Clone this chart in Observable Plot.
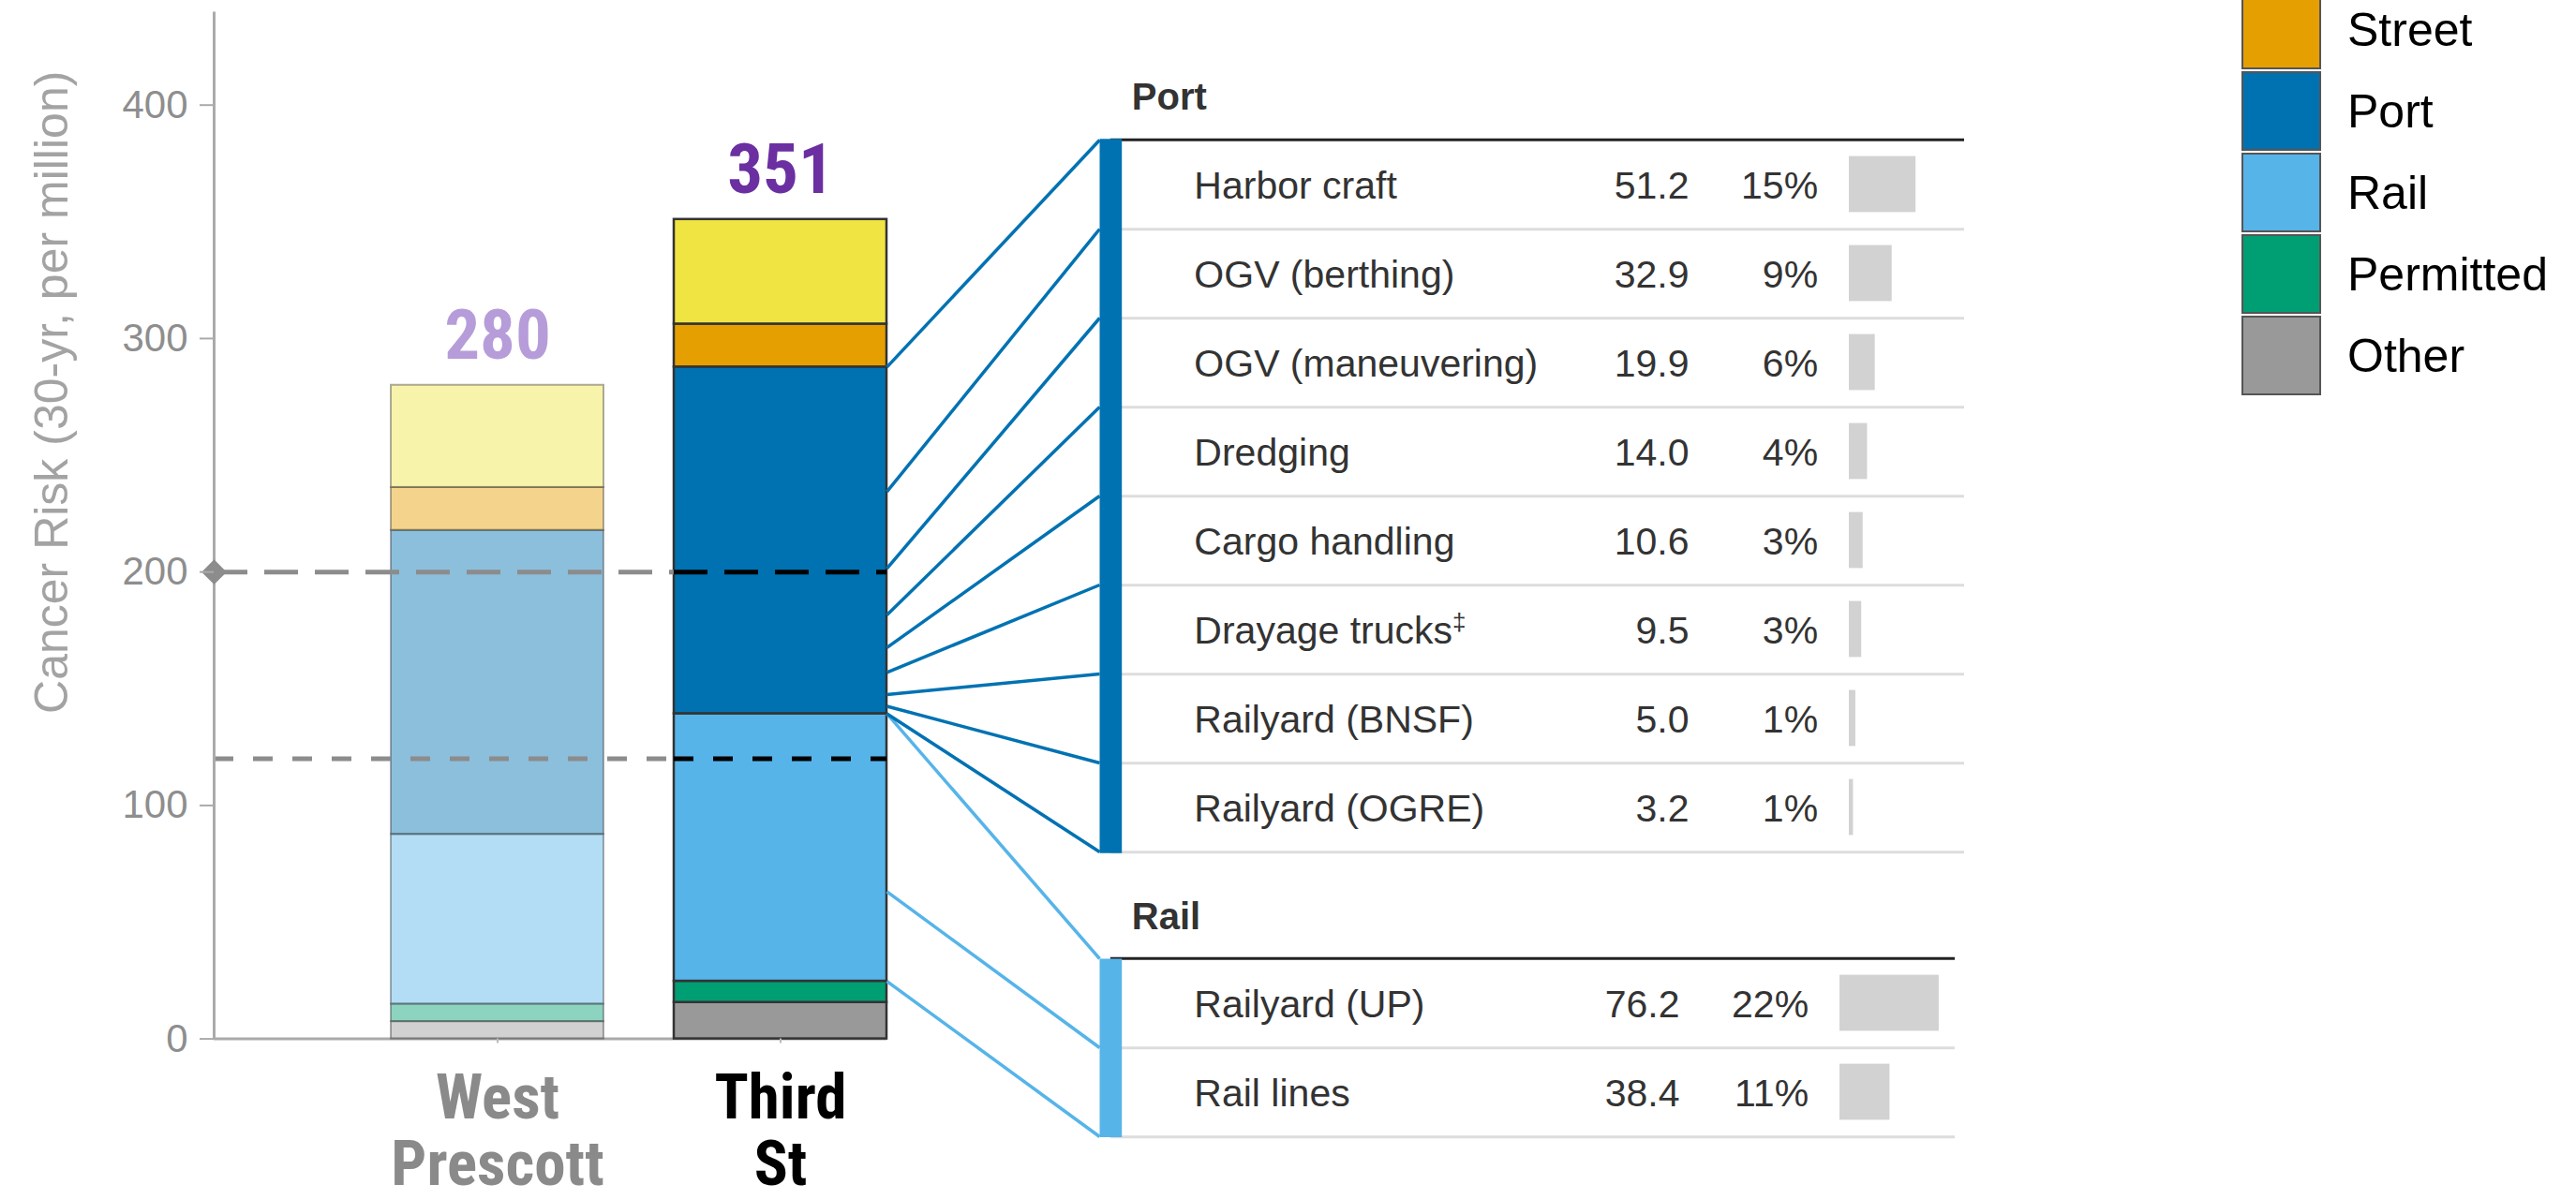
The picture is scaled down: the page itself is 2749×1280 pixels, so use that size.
<!DOCTYPE html>
<html>
<head>
<meta charset="utf-8">
<script src="https://cdn.jsdelivr.net/npm/d3@7"></script>
<script src="https://cdn.jsdelivr.net/npm/@observablehq/plot@0.6"></script>
<style>
  html, body { margin: 0; padding: 0; background: #fff; }
  #wrap { position: relative; width: 2749px; height: 1280px; overflow: hidden;
          font-family: "Liberation Sans", Arial, Helvetica, sans-serif; }
  #wrap svg { position: absolute; }
  .lg-box { position: absolute; box-sizing: border-box; border: 2px solid #555; }
  .lg-label { position: absolute; display: flex; align-items: center; font-size: 50px; color: #000; white-space: nowrap; }
</style>
</head>
<body>
<div id="wrap"></div>
<script>
// ---------------- data ----------------
const sites = ["West Prescott", "Third St"];
const siteLabels = ["West\nPrescott", "Third\nSt"];
const sources = ["Other", "Permitted", "Rail", "Port", "Street", "Highway"];
const sourceColors = ["#999999", "#009E73", "#56B4E9", "#0072B2", "#E69F00", "#F0E442"];
const westPrescott = [7.4, 7.5, 72.7, 130.2, 18.4, 43.8];
const thirdSt = [15.6, 9.1, 114.6, 148.5, 18.4, 44.8];
const totals = [280, 351];
const thresholds = [200, 120];
const yTicks = [0, 100, 200, 300, 400];
const yTitle = "Cancer Risk (30-yr, per million)";

const portItems = ["Harbor craft", "OGV (berthing)", "OGV (maneuvering)", "Dredging",
                   "Cargo handling", "Drayage trucks‡", "Railyard (BNSF)", "Railyard (OGRE)"];
const portValues = [51.2, 32.9, 19.9, 14.0, 10.6, 9.5, 5.0, 3.2];
const portShares = ["15%", "9%", "6%", "4%", "3%", "3%", "1%", "1%"];

const railItems = ["Railyard (UP)", "Rail lines"];
const railValues = [76.2, 38.4];
const railShares = ["22%", "11%"];

const legendItems = ["Street", "Port", "Rail", "Permitted", "Other"];

// ---------------- layout ----------------
const FONT = '"Liberation Sans", Arial, Helvetica, sans-serif';
const NARROW = '"Liberation Sans Narrow", "Arial Narrow", "Roboto Condensed", "DejaVu Sans Condensed", sans-serif';
const wrap = document.getElementById("wrap");

const segs = [];
sites.forEach((site, s) => {
  const vals = s === 0 ? westPrescott : thirdSt;
  sources.forEach((source, i) => segs.push({site, source, value: vals[i]}));
});

const xOpts = {type: "band", domain: sites, range: [416, 946], paddingInner: 0.25, paddingOuter: 0};
const xs = Plot.scale({x: xOpts});
const thirdLeft = xs.apply(sites[1]);
const barRight = thirdLeft + xs.bandwidth;
const frameRight = xOpts.range[1];

const catText = {frameAnchor: "bottom", lineAnchor: "top", dy: 34, lineHeight: 1.06,
                 fontSize: 67, fontWeight: "bold", fontFamily: NARROW};

const main = Plot.plot({
  width: 1000, height: 1280,
  marginLeft: 228, marginRight: 1000 - frameRight, marginTop: 12, marginBottom: 171.4,
  style: {fontFamily: FONT, background: "transparent"},
  x: xOpts,
  y: {domain: [0, 440]},
  color: {domain: sources, range: sourceColors},
  marks: [
    Plot.ruleY([0], {stroke: "#aaa", strokeWidth: 3}),
    Plot.barY(segs.filter(d => d.site === sites[0]), {
      x: "site", y: "value", fill: "source", order: sources,
      fillOpacity: 0.45, stroke: "#333", strokeOpacity: 0.4, strokeWidth: 2
    }),
    Plot.barY(segs.filter(d => d.site === sites[1]), {
      x: "site", y: "value", fill: "source", order: sources,
      stroke: "#333", strokeWidth: 2.5
    }),
    Plot.ruleY([thresholds[0]], {stroke: "#8c8c8c", strokeWidth: 5, strokeDasharray: "36,18", insetRight: frameRight - thirdLeft}),
    Plot.ruleY([thresholds[1]], {stroke: "#8c8c8c", strokeWidth: 5, strokeDasharray: "21,21", insetRight: frameRight - thirdLeft}),
    Plot.tickY([thresholds[0]], {x: () => sites[1], y: d => d, stroke: "#000", strokeWidth: 5, strokeDasharray: "36,18"}),
    Plot.tickY([thresholds[1]], {x: () => sites[1], y: d => d, stroke: "#000", strokeWidth: 5, strokeDasharray: "21,21"}),
    Plot.frame({anchor: "left", stroke: "#aaa", strokeWidth: 3, strokeLinecap: "butt"}),
    Plot.dot([thresholds[0]], {y: d => d, frameAnchor: "left", symbol: "diamond2", r: 12, fill: "#8c8c8c", stroke: "none"}),
    Plot.axisY({ticks: yTicks, tickSize: 15, tickPadding: 13, fontSize: 42, stroke: "#aaa", strokeWidth: 2,
                fill: "#8e8e8e", label: null, fontFamily: FONT}),
    Plot.axisX({tickSize: 5, tickFormat: () => "", label: null, stroke: "#bbb", strokeWidth: 2}),
    Plot.text([yTitle], {text: d => d, frameAnchor: "left", rotate: -90, dx: -157, dy: -142,
                         lineAnchor: "bottom", textAnchor: "middle", fontSize: 50, fill: "#a3a3a3"}),
    Plot.text([sites[0]], {x: d => d, y: () => totals[0], text: () => String(totals[0]), dy: -28, lineAnchor: "bottom",
                           fontSize: 75, fontWeight: "bold", fontFamily: NARROW, fill: "#b69dd9"}),
    Plot.text([sites[1]], {x: d => d, y: () => totals[1], text: () => String(totals[1]), dy: -28, lineAnchor: "bottom",
                           fontSize: 75, fontWeight: "bold", fontFamily: NARROW, fill: "#6b2fa1"}),
    Plot.text([sites[0]], {x: d => d, text: () => siteLabels[0], fill: "#8a8a8a", ...catText}),
    Plot.text([sites[1]], {x: d => d, text: () => siteLabels[1], fill: "#000", ...catText})
  ]
});
main.style.left = "0px"; main.style.top = "0px";
wrap.appendChild(main);

// ---------------- tables ----------------
const ROW_H = 95.3;
const SIDE_W = 23.7;
const TABLE_LEFT = 1160;
const TABLE_ML = 24.85;

function makeTable({title, items, values, shares, color, width, height, marginTop}) {
  const rows = items.map((name, i) => ({name, value: values[i], share: shares[i]}));
  const marginBottom = height - marginTop - items.length * ROW_H;
  const txt = {fontSize: 41, fill: "#333", fontFamily: FONT};
  return Plot.plot({
    width, height, marginTop, marginBottom, marginLeft: TABLE_ML, marginRight: 0,
    style: {fontFamily: FONT, background: "transparent"},
    x: {domain: [0, 100], range: [width - 123, width - 123 + 139], axis: null},
    y: {type: "band", domain: items, padding: 0, axis: null},
    marks: [
      Plot.barX(rows, {y: "name", x: "value", fill: "#d2d2d2", insetTop: 17.6, insetBottom: 17.6}),
      Plot.ruleY(rows, {y: "name", dy: ROW_H / 2, stroke: "#dddddd", strokeWidth: 3}),
      Plot.ruleY([items[0]], {y: d => d, dy: -ROW_H / 2, stroke: "#222", strokeWidth: 3}),
      Plot.frame({anchor: "left", stroke: color, strokeWidth: SIDE_W, strokeLinecap: "butt"}),
      Plot.text([title], {text: d => d, frameAnchor: "top-left", dx: 22.5, dy: -31.5, lineAnchor: "bottom",
                          fontWeight: "bold", ...txt, fontSize: 40}),
      Plot.text(rows, {y: "name", text: "name", frameAnchor: "left", dx: 89, dy: 2, textAnchor: "start", ...txt}),
      Plot.text(rows, {y: "name", text: d => d.value.toFixed(1), frameAnchor: "right", dx: -294, dy: 2, textAnchor: "end", ...txt}),
      Plot.text(rows, {y: "name", text: "share", frameAnchor: "right", dx: -156.4, dy: 2, textAnchor: "end", ...txt})
    ]
  });
}

const portTop = 0, railTopPage = 930;
const portTable = makeTable({title: "Port", items: portItems, values: portValues, shares: portShares,
                             color: "#0072B2", width: 936, height: 930, marginTop: 147.8});
portTable.style.left = TABLE_LEFT + "px"; portTable.style.top = portTop + "px";
wrap.appendChild(portTable);

const railTable = makeTable({title: "Rail", items: railItems, values: railValues, shares: railShares,
                             color: "#56B4E9", width: 926, height: 350, marginTop: 92.9});
railTable.style.left = TABLE_LEFT + "px"; railTable.style.top = railTopPage + "px";
wrap.appendChild(railTable);

// superscript double dagger
[portTable, railTable].forEach(svg => {
  svg.querySelectorAll("text").forEach(t => {
    if (t.children.length === 0 && t.textContent.endsWith("‡")) {
      const base = t.textContent.slice(0, -1);
      t.textContent = base;
      const ts = document.createElementNS("http://www.w3.org/2000/svg", "tspan");
      ts.setAttribute("font-size", "26px");
      ts.setAttribute("dy", "-0.55em");
      ts.textContent = "‡";
      t.appendChild(ts);
    }
  });
});

// ---------------- connectors ----------------
const mainY = main.scale("y");
const cum = d3.cumsum(thirdSt);
const railBottomV = cum[1], railTopV = cum[2], portTopV = cum[3];
const connX2 = TABLE_LEFT + TABLE_ML - SIDE_W / 2;

function connectors(tableSvg, pageTop, items, values, bottomV, topV) {
  const ty = tableSvg.scale("y");
  const out = [];
  for (let i = 0; i <= items.length; i++) {
    const v = i === 0 ? topV : bottomV + d3.sum(values.slice(i));
    const yT = i < items.length ? ty.apply(items[i]) : ty.apply(items[items.length - 1]) + ty.bandwidth;
    out.push({x1: barRight, y1: mainY.apply(v), x2: connX2, y2: pageTop + yT});
  }
  return out;
}
const portLinks = connectors(portTable, portTop, portItems, portValues, railTopV, portTopV);
const railLinks = connectors(railTable, railTopPage, railItems, railValues, railBottomV, railTopV);

const overlay = Plot.plot({
  width: 2749, height: 1280, margin: 0,
  style: {background: "transparent", pointerEvents: "none"},
  x: {type: "identity", axis: null},
  y: {type: "identity", axis: null},
  marks: [
    Plot.link(railLinks, {x1: "x1", y1: "y1", x2: "x2", y2: "y2", stroke: "#56B4E9", strokeWidth: 3.5}),
    Plot.link(portLinks, {x1: "x1", y1: "y1", x2: "x2", y2: "y2", stroke: "#0072B2", strokeWidth: 3.5})
  ]
});
overlay.style.left = "0px"; overlay.style.top = "0px";
wrap.appendChild(overlay);

// ---------------- legend ----------------
legendItems.forEach((s, i) => {
  const top = -11 + i * 87;
  const box = document.createElement("div");
  box.className = "lg-box";
  Object.assign(box.style, {left: "2392px", top: top + "px", width: "85px", height: "85px",
                            background: sourceColors[sources.indexOf(s)]});
  wrap.appendChild(box);
  const lab = document.createElement("div");
  lab.className = "lg-label";
  Object.assign(lab.style, {left: "2505px", top: top + "px", height: "85px"});
  lab.textContent = s;
  wrap.appendChild(lab);
});
</script>
</body>
</html>
